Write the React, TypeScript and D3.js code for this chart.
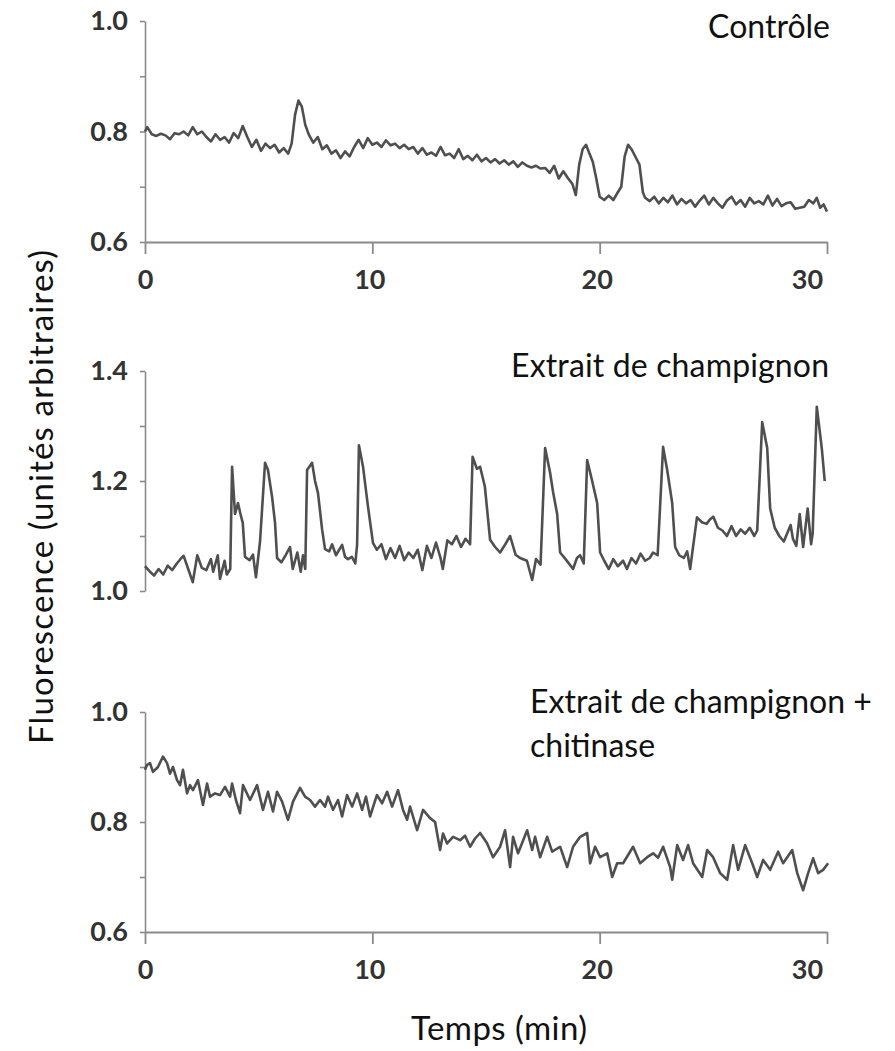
import React, { useEffect, useRef } from 'react';
import * as d3 from 'd3';

// [temps (min), fluorescence]
const controle: [number, number][] = [
  [0.0, 0.800], [0.1, 0.808], [0.3, 0.795], [0.5, 0.792], [0.7, 0.796], [0.9, 0.793], [1.1, 0.786], [1.3, 0.797],
  [1.5, 0.795], [1.7, 0.800], [1.9, 0.793], [2.1, 0.808], [2.3, 0.795], [2.5, 0.800], [2.7, 0.790], [2.9, 0.782],
  [3.1, 0.795], [3.3, 0.785], [3.5, 0.790], [3.7, 0.780], [3.9, 0.797], [4.1, 0.788], [4.3, 0.810], [4.5, 0.790],
  [4.7, 0.772], [4.9, 0.785], [5.1, 0.765], [5.3, 0.778], [5.5, 0.770], [5.7, 0.776], [5.9, 0.762], [6.1, 0.770],
  [6.3, 0.760], [6.45, 0.778], [6.6, 0.830], [6.75, 0.856], [6.9, 0.845], [7.05, 0.812], [7.2, 0.795], [7.4, 0.780],
  [7.6, 0.790], [7.8, 0.768], [8.0, 0.775], [8.2, 0.760], [8.4, 0.766], [8.6, 0.752], [8.8, 0.764], [9.0, 0.755],
  [9.2, 0.772], [9.4, 0.785], [9.6, 0.770], [9.8, 0.788], [10.0, 0.776], [10.2, 0.780], [10.4, 0.772], [10.6, 0.784],
  [10.8, 0.775], [11.0, 0.778], [11.2, 0.770], [11.4, 0.776], [11.6, 0.768], [11.8, 0.772], [12.0, 0.760], [12.2, 0.770],
  [12.4, 0.758], [12.6, 0.762], [12.8, 0.756], [13.0, 0.772], [13.2, 0.757], [13.4, 0.760], [13.6, 0.752], [13.8, 0.768],
  [14.0, 0.750], [14.2, 0.756], [14.4, 0.748], [14.6, 0.758], [14.8, 0.746], [15.0, 0.752], [15.2, 0.744], [15.4, 0.750],
  [15.6, 0.742], [15.8, 0.748], [16.0, 0.740], [16.2, 0.746], [16.4, 0.736], [16.6, 0.744], [16.8, 0.738], [17.0, 0.735],
  [17.2, 0.738], [17.4, 0.733], [17.6, 0.734], [17.8, 0.725], [18.0, 0.738], [18.2, 0.715], [18.4, 0.728], [18.6, 0.716],
  [18.8, 0.705], [18.95, 0.685], [19.1, 0.740], [19.25, 0.768], [19.4, 0.776], [19.55, 0.760], [19.7, 0.745], [19.85, 0.715],
  [20.0, 0.682], [20.2, 0.676], [20.4, 0.684], [20.6, 0.676], [20.8, 0.690], [20.95, 0.700], [21.1, 0.755], [21.25, 0.776],
  [21.4, 0.768], [21.6, 0.752], [21.75, 0.740], [21.9, 0.690], [22.0, 0.680], [22.2, 0.674], [22.4, 0.682], [22.6, 0.670],
  [22.8, 0.680], [23.0, 0.672], [23.2, 0.684], [23.4, 0.668], [23.6, 0.678], [23.8, 0.670], [24.0, 0.676], [24.2, 0.664],
  [24.4, 0.675], [24.6, 0.684], [24.8, 0.668], [25.0, 0.680], [25.2, 0.670], [25.4, 0.662], [25.6, 0.675], [25.8, 0.682],
  [26.0, 0.668], [26.2, 0.676], [26.4, 0.664], [26.6, 0.680], [26.8, 0.670], [27.0, 0.674], [27.2, 0.668], [27.4, 0.684],
  [27.6, 0.666], [27.8, 0.678], [28.0, 0.665], [28.2, 0.670], [28.4, 0.672], [28.6, 0.660], [28.8, 0.662], [29.0, 0.664],
  [29.2, 0.676], [29.4, 0.670], [29.55, 0.680], [29.7, 0.662], [29.85, 0.668], [30.0, 0.655],
];

const champignon: [number, number][] = [
  [0.0, 1.045], [0.2, 1.036], [0.4, 1.028], [0.6, 1.040], [0.8, 1.030], [1.0, 1.046], [1.2, 1.038], [1.4, 1.050],
  [1.6, 1.060], [1.7, 1.064], [1.9, 1.040], [2.1, 1.016], [2.3, 1.065], [2.5, 1.042], [2.7, 1.038], [2.9, 1.058],
  [3.0, 1.035], [3.2, 1.065], [3.3, 1.022], [3.5, 1.055], [3.6, 1.030], [3.75, 1.040], [3.83, 1.226], [3.96, 1.140],
  [4.09, 1.160], [4.2, 1.140], [4.3, 1.124], [4.4, 1.062], [4.6, 1.056], [4.75, 1.066], [4.88, 1.025], [5.06, 1.090],
  [5.28, 1.233], [5.41, 1.220], [5.59, 1.171], [5.72, 1.124], [5.81, 1.060], [6.0, 1.052], [6.2, 1.066], [6.38, 1.080],
  [6.5, 1.040], [6.7, 1.070], [6.85, 1.035], [6.95, 1.065], [7.05, 1.040], [7.13, 1.220], [7.35, 1.233], [7.48, 1.200],
  [7.61, 1.178], [7.79, 1.112], [7.92, 1.076], [8.1, 1.072], [8.23, 1.085], [8.4, 1.065], [8.67, 1.084], [8.8, 1.062],
  [8.93, 1.058], [9.1, 1.062], [9.25, 1.050], [9.33, 1.084], [9.41, 1.265], [9.59, 1.226], [9.81, 1.153], [10.03, 1.087],
  [10.2, 1.075], [10.4, 1.085], [10.6, 1.058], [10.8, 1.078], [11.0, 1.060], [11.2, 1.082], [11.4, 1.056], [11.6, 1.070],
  [11.8, 1.060], [12.0, 1.075], [12.2, 1.038], [12.4, 1.082], [12.6, 1.060], [12.8, 1.088], [13.0, 1.060], [13.1, 1.040],
  [13.3, 1.092], [13.5, 1.085], [13.7, 1.100], [13.9, 1.080], [14.1, 1.095], [14.3, 1.085], [14.41, 1.244], [14.6, 1.222],
  [14.74, 1.226], [14.95, 1.190], [15.18, 1.093], [15.4, 1.080], [15.62, 1.070], [15.85, 1.085], [16.06, 1.100], [16.3, 1.066],
  [16.5, 1.060], [16.8, 1.055], [17.03, 1.020], [17.2, 1.058], [17.4, 1.048], [17.6, 1.260], [17.82, 1.215], [17.95, 1.180],
  [18.13, 1.140], [18.26, 1.070], [18.5, 1.058], [18.83, 1.040], [19.0, 1.060], [19.14, 1.065], [19.3, 1.050], [19.45, 1.238],
  [19.67, 1.200], [19.89, 1.160], [20.02, 1.070], [20.2, 1.055], [20.4, 1.040], [20.6, 1.058], [20.8, 1.045], [21.03, 1.055],
  [21.2, 1.040], [21.4, 1.060], [21.6, 1.050], [21.8, 1.068], [22.0, 1.055], [22.2, 1.060], [22.35, 1.070], [22.55, 1.065],
  [22.79, 1.262], [22.97, 1.220], [23.19, 1.160], [23.32, 1.080], [23.5, 1.065], [23.7, 1.060], [23.85, 1.072], [23.98, 1.040],
  [24.28, 1.134], [24.5, 1.125], [24.7, 1.122], [24.85, 1.130], [25.0, 1.135], [25.2, 1.115], [25.4, 1.110], [25.6, 1.100],
  [25.8, 1.118], [26.0, 1.100], [26.2, 1.112], [26.4, 1.104], [26.6, 1.115], [26.8, 1.100], [26.93, 1.110], [27.15, 1.307],
  [27.37, 1.260], [27.5, 1.150], [27.7, 1.115], [27.9, 1.100], [28.1, 1.090], [28.3, 1.110], [28.4, 1.120], [28.5, 1.095],
  [28.65, 1.082], [28.8, 1.140], [28.95, 1.080], [29.15, 1.150], [29.3, 1.085], [29.37, 1.105], [29.55, 1.335], [29.77, 1.260],
  [29.9, 1.200],
];

const chitinase: [number, number][] = [
  [0.0, 0.895], [0.09, 0.904], [0.22, 0.907], [0.35, 0.891], [0.57, 0.900], [0.79, 0.919], [0.97, 0.907], [1.10, 0.888],
  [1.23, 0.900], [1.41, 0.876], [1.54, 0.867], [1.67, 0.895], [1.85, 0.852], [1.98, 0.867], [2.11, 0.858], [2.33, 0.876],
  [2.55, 0.831], [2.73, 0.870], [2.86, 0.846], [3.08, 0.852], [3.30, 0.849], [3.52, 0.864], [3.74, 0.846], [3.83, 0.870],
  [4.00, 0.840], [4.18, 0.816], [4.31, 0.867], [4.62, 0.840], [4.93, 0.867], [5.19, 0.822], [5.41, 0.855], [5.63, 0.819],
  [5.81, 0.855], [6.03, 0.837], [6.29, 0.804], [6.51, 0.837], [6.82, 0.862], [7.04, 0.846], [7.26, 0.840], [7.48, 0.828],
  [7.70, 0.840], [7.92, 0.828], [8.05, 0.846], [8.27, 0.822], [8.49, 0.840], [8.67, 0.810], [8.89, 0.849], [9.11, 0.828],
  [9.33, 0.852], [9.55, 0.822], [9.72, 0.846], [9.90, 0.810], [10.2, 0.849], [10.43, 0.834], [10.65, 0.855], [10.87, 0.828],
  [11.13, 0.858], [11.35, 0.822], [11.53, 0.804], [11.66, 0.828], [11.97, 0.785], [12.23, 0.822], [12.54, 0.807], [12.76, 0.800],
  [12.98, 0.749], [13.11, 0.779], [13.29, 0.761], [13.55, 0.773], [13.86, 0.767], [14.08, 0.775], [14.30, 0.755], [14.52, 0.770],
  [14.74, 0.780], [15.04, 0.762], [15.31, 0.736], [15.62, 0.755], [15.84, 0.785], [16.06, 0.718], [16.19, 0.773], [16.41, 0.743],
  [16.81, 0.785], [17.03, 0.749], [17.16, 0.773], [17.38, 0.736], [17.69, 0.773], [17.91, 0.746], [18.26, 0.755], [18.57, 0.718],
  [18.83, 0.755], [19.14, 0.773], [19.45, 0.780], [19.58, 0.725], [19.80, 0.755], [20.02, 0.736], [20.33, 0.743], [20.55, 0.700],
  [20.77, 0.725], [21.03, 0.725], [21.25, 0.740], [21.47, 0.755], [21.78, 0.725], [22.09, 0.736], [22.35, 0.743], [22.57, 0.735],
  [22.79, 0.755], [23.10, 0.718], [23.19, 0.695], [23.41, 0.758], [23.67, 0.731], [23.89, 0.758], [24.11, 0.725], [24.51, 0.700],
  [24.73, 0.749], [24.99, 0.736], [25.30, 0.707], [25.61, 0.695], [25.87, 0.758], [26.09, 0.713], [26.40, 0.758], [26.71, 0.725],
  [26.93, 0.700], [27.19, 0.731], [27.50, 0.713], [27.85, 0.746], [28.07, 0.725], [28.47, 0.749], [28.69, 0.707], [28.95, 0.676],
  [29.17, 0.707], [29.39, 0.734], [29.61, 0.707], [29.83, 0.713], [30.05, 0.725],
];

const xTicks = [0, 10, 20, 30];
const yTicksLow = [0.6, 0.7, 0.8, 0.9, 1.0];
const yLabelsLow = [0.6, 0.8, 1.0];
const yTicksHigh = [1.0, 1.1, 1.2, 1.3, 1.4];
const yLabelsHigh = [1.0, 1.2, 1.4];

const titles = ['Contrôle', 'Extrait de champignon', 'Extrait de champignon +', 'chitinase'];
const yTitle = 'Fluorescence (unités arbitraires)';
const xTitle = 'Temps (min)';

const FONT = 'Lato, "Open Sans", sans-serif';

export default function App() {
  const ref = useRef<SVGSVGElement>(null);

  useEffect(() => {
    const svg = d3.select(ref.current);
    svg.select('g.plots').remove();
    const root = svg.append('g').attr('class', 'plots');
    const x = d3.scaleLinear().domain([0, 30]).range([145, 827]);

    const panels = [
      { data: controle, dom: [0.6, 1.0], range: [242, 21], ticks: yTicksLow, labels: yLabelsLow, xAxis: true },
      { data: champignon, dom: [1.0, 1.4], range: [591, 371], ticks: yTicksHigh, labels: yLabelsHigh, xAxis: false },
      { data: chitinase, dom: [0.6, 1.0], range: [932, 712], ticks: yTicksLow, labels: yLabelsLow, xAxis: true },
    ];

    panels.forEach((p) => {
      const y = d3.scaleLinear().domain(p.dom).range(p.range);
      const g = root.append('g');

      const ya = d3
        .axisLeft(y)
        .tickValues(p.ticks)
        .tickSize(5)
        .tickSizeOuter(0)
        .tickPadding(12)
        .tickFormat((d: any) => (p.labels.includes(d) ? d3.format('.1f')(d) : ''));
      const yg = g.append('g').attr('transform', 'translate(145,0)').call(ya as any);
      yg.attr('font-size', null).attr('font-family', null);
      yg.select('.domain').attr('stroke', '#8a8a8a').attr('stroke-width', 1.6);
      yg.selectAll('.tick line').attr('stroke', '#8a8a8a').attr('stroke-width', 1.6);
      yg.selectAll('.tick text')
        .attr('fill', '#333')
        .style('font-family', FONT)
        .style('font-weight', '700')
        .style('font-size', '27px');

      if (p.xAxis) {
        const xa = d3
          .axisBottom(x)
          .tickValues(xTicks)
          .tickSize(12)
          .tickSizeOuter(0)
          .tickPadding(16)
          .tickFormat((d: any) => String(d));
        const xg = g.append('g').attr('transform', `translate(0,${p.range[0]})`).call(xa as any);
        xg.attr('font-size', null).attr('font-family', null);
        xg.select('.domain').attr('stroke', '#8a8a8a').attr('stroke-width', 2);
        xg.selectAll('.tick line').attr('stroke', '#8a8a8a').attr('stroke-width', 1.8);
        xg.selectAll('.tick text')
          .attr('fill', '#333')
          .attr('dx', (d: any) => (d === 30 ? -20 : d === 0 ? 0 : -3))
          .style('font-family', FONT)
          .style('font-weight', '700')
          .style('font-size', '27px');
      }

      const line = d3
        .line<[number, number]>()
        .x((d) => x(d[0]))
        .y((d) => y(d[1]));
      g.append('path')
        .datum(p.data)
        .attr('d', line)
        .attr('fill', 'none')
        .attr('stroke', '#4f4f4f')
        .attr('stroke-width', 2.6)
        .attr('stroke-linejoin', 'round');
    });
  }, []);

  const textStyle = { fontFamily: FONT, fontSize: '32px', fill: '#111' } as const;

  return (
    <svg
      ref={ref}
      width={895}
      height={1051}
      style={{ position: 'absolute', left: 0, top: 0, background: '#fff' }}
    >
      <rect x={0} y={0} width={895} height={1051} fill="#fff" />
      <text x={830} y={38} textAnchor="end" style={textStyle}>{titles[0]}</text>
      <text x={829} y={377} textAnchor="end" textLength={318} lengthAdjust="spacing" style={textStyle}>{titles[1]}</text>
      <text x={530} y={713} style={textStyle}>{titles[2]}</text>
      <text x={530} y={757} style={textStyle}>{titles[3]}</text>
      <text
        transform="translate(53,497) rotate(-90)"
        textAnchor="middle"
        textLength={494}
        lengthAdjust="spacing"
        style={{ fontFamily: FONT, fontSize: '33px', fill: '#111' }}
      >
        {yTitle}
      </text>
      <text
        x={499}
        y={1040}
        textAnchor="middle"
        textLength={176}
        lengthAdjust="spacing"
        style={{ fontFamily: FONT, fontSize: '33px', fill: '#111' }}
      >
        {xTitle}
      </text>
    </svg>
  );
}
